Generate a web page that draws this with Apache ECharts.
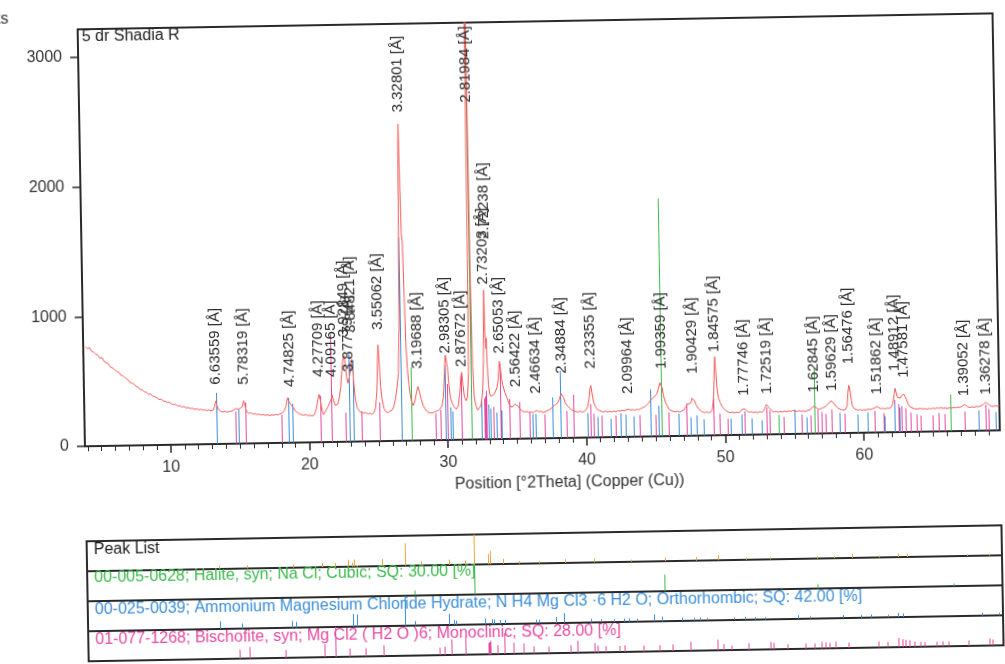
<!DOCTYPE html>
<html>
<head>
<meta charset="utf-8">
<title>5 dr Shadia R</title>
<script src="https://cdn.jsdelivr.net/npm/echarts@6.0.0/dist/echarts.min.js"></script>
<style>
  html, body { margin: 0; padding: 0; background: #ffffff; overflow: hidden; }
  /* the printed sheet sits about one degree off square */
  #chart { width: 1005px; height: 664px; transform: rotate(-1deg); transform-origin: 502.5px 332px; }
</style>
</head>
<body>
<div id="chart"></div>
<script>
// Measured diffraction profile: [position °2θ, counts]
const profile = [
  [3.95,768],[4.1,752],[4.25,760],[4.4,731],[4.55,724],[4.7,708],[4.85,700],[5.0,676],[5.15,681],[5.3,650],
  [5.45,641],[5.6,632],[5.75,606],[5.9,601],[6.05,585],[6.2,572],[6.35,566],[6.5,541],[6.65,538],[6.8,520],
  [6.95,512],[7.1,489],[7.25,481],[7.4,474],[7.55,455],[7.7,449],[7.85,430],[8.0,428],[8.15,411],[8.3,408],
  [8.45,392],[8.6,395],[8.75,377],[8.9,372],[9.05,366],[9.2,351],[9.35,354],[9.5,338],[9.65,336],[9.8,326],
  [9.95,329],[10.1,314],[10.25,309],[10.4,311],[10.55,298],[10.7,300],[10.85,290],[11.0,293],[11.15,282],[11.3,285],
  [11.45,276],[11.6,279],[11.75,270],[11.9,274],[12.05,266],[12.2,271],[12.35,262],[12.5,265],[12.65,258],[12.8,263],
  [12.95,256],[13.1,262],[13.2,290],[13.3,332],[13.4,288],[13.5,262],[13.65,251],[13.8,246],[13.95,252],[14.1,244],
  [14.25,249],[14.4,252],[14.55,258],[14.7,270],[14.82,284],[14.95,266],[15.08,259],[15.2,284],[15.3,330],[15.4,292],
  [15.5,246],[15.65,233],[15.8,236],[15.95,226],[16.1,231],[16.25,222],[16.4,225],[16.55,217],[16.7,221],[16.85,214],
  [17.0,219],[17.15,212],[17.3,218],[17.45,214],[17.6,220],[17.75,216],[17.9,224],[18.05,229],[18.2,243],[18.35,281],
  [18.47,346],[18.57,318],[18.67,302],[18.8,291],[18.92,262],[19.05,240],[19.2,229],[19.35,220],[19.5,214],[19.65,210],
  [19.8,216],[19.95,205],[20.1,209],[20.25,203],[20.4,214],[20.55,262],[20.67,334],[20.75,368],[20.85,318],[20.95,246],
  [21.05,212],[21.15,224],[21.28,252],[21.4,276],[21.52,288],[21.62,330],[21.7,362],[21.8,318],[21.9,282],[22.0,277],
  [22.1,292],[22.2,334],[22.32,420],[22.42,548],[22.52,642],[22.6,665],[22.68,600],[22.76,498],[22.84,452],[22.92,440],
  [23.0,520],[23.07,612],[23.13,635],[23.2,560],[23.28,430],[23.38,322],[23.5,258],[23.65,232],[23.8,226],[23.95,218],
  [24.1,222],[24.25,212],[24.4,216],[24.55,208],[24.7,222],[24.82,262],[24.92,380],[25.0,612],[25.06,742],[25.12,610],
  [25.2,420],[25.3,318],[25.42,252],[25.55,226],[25.7,218],[25.85,230],[26.0,238],[26.12,262],[26.25,318],[26.38,410],
  [26.5,520],[26.6,880],[26.68,1620],[26.74,2280],[26.78,2440],[26.83,1980],[26.88,1600],[26.94,1540],[27.0,1180],[27.07,760],
  [27.15,560],[27.25,420],[27.38,318],[27.52,270],[27.65,300],[27.78,372],[27.89,415],[28.0,372],[28.12,318],[28.25,268],
  [28.4,240],[28.55,218],[28.7,212],[28.85,209],[29.0,214],[29.15,222],[29.3,226],[29.45,238],[29.6,262],[29.72,330],
  [29.82,520],[29.9,655],[29.96,640],[30.04,560],[30.12,430],[30.22,330],[30.35,282],[30.5,250],[30.65,238],[30.78,262],
  [30.9,360],[31.0,490],[31.06,520],[31.14,420],[31.24,330],[31.36,300],[31.46,330],[31.56,520],[31.62,1400],[31.67,3200],
  [31.71,5200],[31.75,3600],[31.8,1200],[31.86,560],[31.94,330],[32.05,260],[32.18,225],[32.3,232],[32.42,262],[32.55,360],
  [32.65,620],[32.71,980],[32.75,1150],[32.79,820],[32.83,700],[32.87,780],[32.92,560],[32.98,420],[33.06,350],[33.16,330],
  [33.28,338],[33.4,350],[33.5,362],[33.6,400],[33.7,470],[33.78,600],[33.84,560],[33.92,470],[34.02,410],[34.15,360],
  [34.3,320],[34.45,270],[34.6,245],[34.75,252],[34.88,268],[34.98,276],[35.1,250],[35.25,226],[35.4,212],[35.55,205],
  [35.7,210],[35.85,201],[36.0,206],[36.15,199],[36.3,208],[36.45,214],[36.6,204],[36.75,209],[36.9,198],[37.05,205],
  [37.2,212],[37.35,220],[37.5,232],[37.65,246],[37.8,258],[37.95,270],[38.08,300],[38.2,342],[38.29,352],[38.38,312],
  [38.5,270],[38.65,246],[38.8,230],[38.95,216],[39.1,208],[39.25,202],[39.4,197],[39.55,205],[39.7,196],[39.85,202],
  [40.0,214],[40.12,240],[40.22,300],[40.3,382],[40.36,400],[40.44,340],[40.55,270],[40.68,236],[40.82,214],[40.96,204],
  [41.1,199],[41.25,195],[41.4,201],[41.55,192],[41.7,198],[41.85,194],[42.0,200],[42.15,195],[42.3,204],[42.45,199],
  [42.6,207],[42.75,201],[42.9,209],[43.05,214],[43.2,206],[43.35,210],[43.5,203],[43.65,212],[43.8,208],[43.95,218],
  [44.1,224],[44.25,232],[44.4,246],[44.55,262],[44.7,284],[44.85,300],[45.0,312],[45.12,330],[45.24,372],[45.34,412],
  [45.42,420],[45.5,372],[45.6,310],[45.72,262],[45.85,232],[46.0,205],[46.15,195],[46.3,190],[46.45,186],[46.6,192],
  [46.75,184],[46.9,193],[47.05,200],[47.18,222],[47.3,242],[47.42,236],[47.55,252],[47.65,290],[47.72,300],[47.82,270],
  [47.95,234],[48.1,208],[48.25,190],[48.4,182],[48.55,176],[48.7,181],[48.85,174],[49.0,182],[49.1,200],[49.2,290],
  [49.28,510],[49.33,605],[49.38,505],[49.45,368],[49.55,290],[49.68,250],[49.8,222],[49.95,200],[50.1,186],[50.25,177],
  [50.4,171],[50.55,178],[50.7,169],[50.85,176],[51.0,171],[51.15,182],[51.28,200],[51.37,214],[51.46,199],[51.6,183],
  [51.75,173],[51.9,178],[52.05,170],[52.2,175],[52.35,168],[52.5,176],[52.65,172],[52.8,184],[52.92,210],[53.0,230],
  [53.06,224],[53.14,212],[53.25,198],[53.4,180],[53.55,172],[53.7,177],[53.85,169],[54.0,175],[54.15,170],[54.3,178],
  [54.45,171],[54.6,179],[54.75,174],[54.9,182],[55.05,176],[55.2,172],[55.35,180],[55.5,173],[55.65,178],[55.8,170],
  [55.95,179],[56.1,183],[56.25,194],[56.38,210],[56.46,220],[56.55,204],[56.7,190],[56.85,187],[57.0,194],[57.15,200],
  [57.3,210],[57.45,228],[57.58,242],[57.7,250],[57.82,236],[57.95,216],[58.1,198],[58.25,187],[58.4,180],[58.55,176],
  [58.7,182],[58.82,210],[58.9,316],[58.96,366],[59.02,348],[59.1,276],[59.2,210],[59.32,188],[59.45,180],[59.6,174],
  [59.75,180],[59.9,173],[60.05,178],[60.2,174],[60.35,181],[60.5,177],[60.65,184],[60.8,189],[60.96,200],[61.1,190],
  [61.25,182],[61.4,186],[61.55,180],[61.7,187],[61.85,183],[62.0,194],[62.12,218],[62.22,286],[62.3,338],[62.38,304],
  [62.46,268],[62.56,254],[62.66,262],[62.76,278],[62.86,288],[62.93,292],[63.02,272],[63.12,248],[63.24,212],[63.38,192],
  [63.52,182],[63.66,178],[63.8,183],[63.95,176],[64.1,181],[64.25,174],[64.4,179],[64.55,172],[64.7,178],[64.85,174],
  [65.0,180],[65.15,175],[65.3,182],[65.45,177],[65.6,183],[65.75,176],[65.9,180],[66.05,174],[66.2,181],[66.35,177],
  [66.5,183],[66.65,179],[66.8,185],[66.95,182],[67.1,190],[67.22,200],[67.3,206],[67.4,194],[67.55,184],[67.7,180],
  [67.85,186],[68.0,181],[68.15,188],[68.3,184],[68.45,192],[68.6,198],[68.72,210],[68.82,220],[68.92,212],[69.05,198],
  [69.2,189],[69.35,184],[69.5,191],[69.65,186],[69.8,192]
];

// Peak list: d-spacing, position (°2θ) and height (counts)
const peakD = ['6.63559','5.78319','4.74825','4.27709','4.09165','3.92849','3.87779','3.84821','3.55062','3.32801',
  '3.19688','2.98305','2.87672','2.81984','2.73203','2.72238','2.65053','2.56422','2.46634','2.34884',
  '2.23355','2.09964','1.99359','1.90429','1.84575','1.77746','1.72519','1.62845','1.59629','1.56476',
  '1.51862','1.48912','1.47581','1.39052','1.36278'];
const peakPos = [13.33,15.31,18.67,20.75,21.70,22.62,22.91,23.09,25.06,26.77,
  27.89,29.93,31.06,31.71,32.75,32.87,33.79,34.96,36.40,38.29,
  40.35,43.05,45.46,47.72,49.33,51.37,53.04,56.46,57.71,58.98,
  60.96,62.30,62.93,67.28,68.84];
const peakHeight = [365,360,337,411,409,715,446,746,765,2440,
  460,574,468,5200,1100,1450,566,306,252,403,
  437,239,426,383,547,208,217,224,234,437,
  201,378,325,175,184];

// Reference patterns: line positions (°2θ) and relative intensities (%)
const halitePos = [27.37, 31.70, 45.45, 53.87, 56.47, 66.23];
const haliteRel = [17, 100, 55, 4.5, 15, 8.5];

const ammoniumPos = [13.30,14.90,18.55,18.80,22.95,23.20,26.65,27.40,29.82,30.19,
  30.32,32.47,32.95,33.10,33.55,33.90,36.10,36.35,37.53,38.13,
  40.06,40.78,41.74,42.47,42.80,43.42,44.62,45.22,46.67,47.50,
  47.95,48.45,50.40,51.16,51.90,52.60,55.00,55.90,58.25,59.58,
  60.30,61.50,62.20,62.60,68.30,69.50];
const ammoniumRel = [25,17,22,19,43,40,100,15,37,16,
  14,19,17,15,13,14,12,12,20,33,
  12,10,9,11,11,10,23,15,11,9,
  10,8,8,10,8,7,12,8,10,9,
  10,8,14,12,10,9];

const bischofitePos = [14.70,15.40,18.00,20.80,21.65,22.60,23.80,25.10,29.10,29.46,
  29.95,31.02,32.62,32.72,32.82,33.30,33.82,34.48,35.15,35.90,
  36.95,38.56,39.04,40.30,40.55,41.10,42.10,42.47,43.80,45.00,
  45.90,47.20,49.20,49.60,50.20,51.40,53.00,53.20,54.20,55.50,
  56.20,56.70,56.95,57.25,57.65,58.60,60.80,61.40,62.25,62.50,
  62.75,63.00,63.40,63.80,64.10,65.00,65.40,65.80,67.30,68.80,69.00];
const bischofiteRel = [30,38,26,43,100,27,28,36,25,28,
  52,60,38,40,45,30,70,37,34,24,
  22,25,40,31,22,20,20,22,20,20,
  22,30,35,20,15,22,25,22,16,18,
  17,22,20,18,22,18,20,18,30,26,
  24,22,18,16,15,15,17,16,18,24,20];

// Tick labels
const xTickValues = [10, 20, 30, 40, 50, 60];
const xMinorTickValues = [4,5,6,7,8,9,11,12,13,14,15,16,17,18,19,21,22,23,24,25,26,27,28,29,
  31,32,33,34,35,36,37,38,39,41,42,43,44,45,46,47,48,49,51,52,53,54,55,56,57,58,59,
  61,62,63,64,65,66,67,68,69];
const yTickValues = [0, 1000, 2000, 3000];

const phaseNames = [
  'Peak List',
  '00-005-0628; Halite, syn; Na Cl; Cubic; SQ: 30.00 [%]',
  '00-025-0039; Ammonium Magnesium Chloride Hydrate; N H4 Mg Cl3 \u00b76 H2 O; Orthorhombic; SQ: 42.00 [%]',
  '01-077-1268; Bischofite, syn; Mg Cl2 ( H2 O )6; Monoclinic; SQ: 28.00 [%]'
];

// ---- drawing ----
const X_MIN = 3.8, X_MAX = 69.8, Y_MAX = 3215;
const FONT = '"Liberation Sans", Arial, sans-serif';
const C_RED = '#f25a58', C_GREEN = '#3cba4c', C_BLUE = '#3b8dd8', C_PINK = '#e6489f', C_ORANGE = '#f0a53c';
const C_FRAME = '#2a2a2a', C_TEXT = '#333333';

// counts represented by 100 % of each reference pattern in the main plot
const HALITE_FULL = 3330, AMMONIUM_FULL = 1570, BISCHOFITE_FULL = 830;
// highest anchor for a peak label, keeps the vertical text inside the frame
const LABEL_CAP = 2505;

const pairs = (pos, vals, k) => pos.map((p, i) => [p, vals[i] * (k || 1)]);

function stickSeries(data, color, xi, yi, cap) {
  return {
    type: 'custom', xAxisIndex: xi, yAxisIndex: yi, silent: true, clip: true,
    encode: { x: 0, y: 1 }, data: data, z: 2,
    renderItem: function (params, api) {
      const x = api.value(0);
      const h = Math.min(api.value(1), cap);
      const a = api.coord([x, 0]);
      const b = api.coord([x, h]);
      const px = Math.round(a[0]) + 0.5;
      return { type: 'line', shape: { x1: px, y1: a[1], x2: px, y2: b[1] },
               style: { stroke: color, lineWidth: 1 } };
    }
  };
}

const rowTops = [534, 564, 594, 624];
const grids = [{ left: 83, right: 7, top: 22, height: 417 }];
rowTops.forEach(t => grids.push({ left: 83, right: 7, top: t, height: 30 }));
grids.forEach(g => { g.show = true; g.borderColor = C_FRAME; g.borderWidth = 2; g.backgroundColor = 'transparent'; });

const plainNumber = v => String(Math.round(v));

const xAxes = [
  { gridIndex: 0, type: 'value', position: 'bottom', min: X_MIN, max: X_MAX,
    axisLine: { show: true, onZero: false, lineStyle: { color: C_FRAME, width: 2 } },
    axisTick: { show: true, customValues: xTickValues, length: 8, lineStyle: { color: C_FRAME, width: 1.5 } },
    axisLabel: { show: true, customValues: xTickValues, formatter: plainNumber, margin: 15,
                 fontSize: 16, fontFamily: FONT, color: C_TEXT },
    splitLine: { show: false } },
  { gridIndex: 0, type: 'value', position: 'bottom', min: X_MIN, max: X_MAX,
    axisLine: { show: false, onZero: false },
    axisTick: { show: true, customValues: xMinorTickValues, length: 5, lineStyle: { color: C_FRAME, width: 1 } },
    axisLabel: { show: false }, splitLine: { show: false } }
];
const yAxes = [
  { gridIndex: 0, type: 'value', min: 0, max: Y_MAX,
    axisLine: { show: true, lineStyle: { color: C_FRAME, width: 2 } },
    axisTick: { show: true, customValues: yTickValues, length: 8, lineStyle: { color: C_FRAME, width: 1.5 } },
    axisLabel: { show: true, customValues: yTickValues, formatter: plainNumber, margin: 16,
                 fontSize: 16, fontFamily: FONT, color: C_TEXT },
    splitLine: { show: false } }
];
for (let r = 0; r < 4; r++) {
  xAxes.push({ gridIndex: r + 1, type: 'value', min: X_MIN, max: X_MAX, show: false });
  yAxes.push({ gridIndex: r + 1, type: 'value', min: 0, max: r === 0 ? Y_MAX : 100, show: false });
}

const series = [
  // reference lines under the measured profile
  stickSeries(pairs(bischofitePos, bischofiteRel, BISCHOFITE_FULL / 100), C_PINK, 0, 0, Y_MAX),
  stickSeries(pairs(ammoniumPos, ammoniumRel, AMMONIUM_FULL / 100), C_BLUE, 0, 0, Y_MAX),
  stickSeries(pairs(halitePos, haliteRel, HALITE_FULL / 100), C_GREEN, 0, 0, Y_MAX),
  {
    type: 'line', xAxisIndex: 0, yAxisIndex: 0, data: profile, showSymbol: false, symbol: 'none',
    clip: true, silent: true, z: 3,
    lineStyle: { color: C_RED, width: 1 }
  },
  {
    type: 'custom', xAxisIndex: 0, yAxisIndex: 0, silent: true, z: 4,
    encode: { x: 0, y: 1 },
    data: peakPos.map((p, i) => [p, Math.min(peakHeight[i], LABEL_CAP), i]),
    renderItem: function (params, api) {
      const pt = api.coord([api.value(0), api.value(1)]);
      const i = api.value(2);
      return {
        type: 'text', x: pt[0], y: pt[1] - 12, rotation: Math.PI / 2,
        style: { text: peakD[i] + ' [\u00c5]', fill: '#2a2a2a', font: '15px ' + FONT,
                 align: 'left', verticalAlign: 'middle' }
      };
    }
  },
  // lower panel rows
  stickSeries(pairs(peakPos, peakHeight), C_ORANGE, 2, 1, Y_MAX),
  stickSeries(pairs(halitePos, haliteRel), C_GREEN, 3, 2, 100),
  stickSeries(pairs(ammoniumPos, ammoniumRel), C_BLUE, 4, 3, 100),
  stickSeries(pairs(bischofitePos, bischofiteRel), C_PINK, 5, 4, 100)
];

function label(text, x, y, color, align) {
  return { type: 'text', x: x, y: y, silent: true, z: 10,
    style: { text: text, fill: color, font: '16px ' + FONT,
             align: align || 'left', verticalAlign: 'middle',
             textAlign: align || 'left', textVerticalAlign: 'middle' } };
}

const rowColors = ['#1a1a1a', C_GREEN, C_BLUE, C_PINK];
const graphics = [
  label('Counts', 14, 11, C_TEXT, 'right'),
  label('5 dr Shadia R', 87, 30, '#222222'),
  label('Position [\u00b02Theta] (Copper (Cu))', 567, 484, C_TEXT, 'center')
];
phaseNames.forEach((t, i) => graphics.push(label(t, 90, rowTops[i] + (i === 1 ? 7 : 9), rowColors[i])));

const chart = echarts.init(document.getElementById('chart'), null, { renderer: 'canvas' });
chart.setOption({
  animation: false,
  backgroundColor: '#ffffff',
  textStyle: { fontFamily: FONT },
  grid: grids,
  xAxis: xAxes,
  yAxis: yAxes,
  series: series,
  graphic: graphics
});
</script>
</body>
</html>
